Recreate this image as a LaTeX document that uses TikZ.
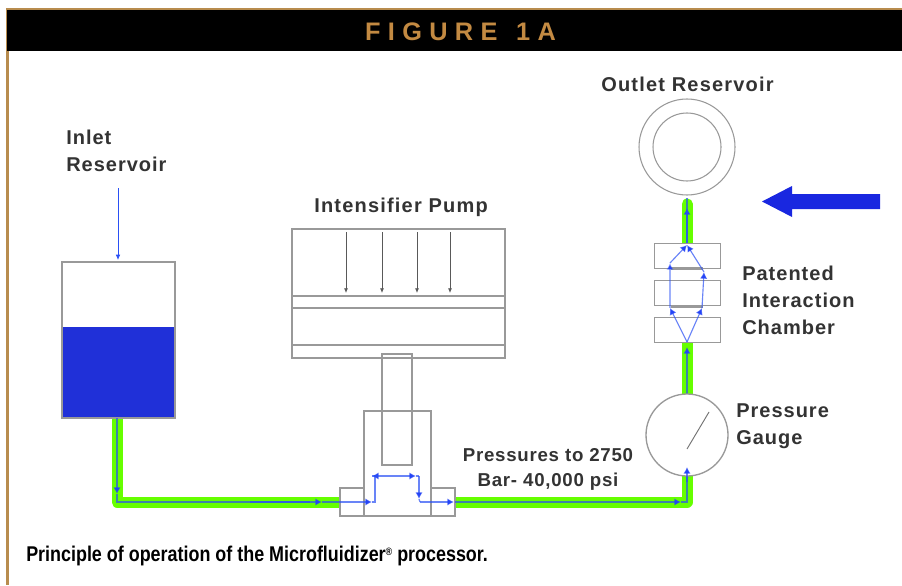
\documentclass[tikz,border=0pt]{standalone}
\usepackage{fontspec}
\setmainfont{Liberation Sans}
\newfontfamily\capfont[FakeStretch=0.84]{Liberation Sans}
\usetikzlibrary{arrows.meta}
\definecolor{gold}{HTML}{B88C4E}
\definecolor{pipegreen}{HTML}{66FF00}
\definecolor{flowblue}{HTML}{2A50F5}
\definecolor{tankblue}{HTML}{2030D8}
\definecolor{linegray}{HTML}{999999}
\tikzset{
  x=0.75pt,y=-0.75pt,
  part/.style={draw=linegray,line width=1pt},
  pipe/.style={draw=pipegreen,line width=8.25pt,line join=round,line cap=butt},
  flow/.style={draw=flowblue,line width=0.85pt,draw opacity=0.7},
  tip/.style={-{Latex[length=5pt,width=5.5pt,color=flowblue!85!blue]}},
  push/.style={draw=black!65,line width=0.6pt,-{Latex[length=3.5pt,width=3pt]}},
  label/.style={font=\bfseries\fontsize{15}{20.25}\selectfont,text=black!80,align=left,inner sep=0pt,anchor=west},
}
\begin{document}
\begin{tikzpicture}
\useasboundingbox (0,0) rectangle (902,585);
\fill[white] (0,0) rectangle (902,585);
% frame and header
\fill[gold] (6,8) rectangle (902,11);
\fill[gold] (6,8) rectangle (9,585);
\fill[black] (7,10) rectangle (902,51);
\node[inner sep=0pt,text=gold!85!orange,font=\bfseries\fontsize{19}{20}\selectfont] (title) at (460.5,32) {\addfontfeature{LetterSpace=29}FIGURE\hspace{14pt}1A};
% coordinates
\coordinate (tankout) at (117,418);
\coordinate (c1) at (117,502);
\coordinate (blockL) at (340,502);
\coordinate (blockR) at (455,502);
\coordinate (c2) at (687,502);
\coordinate (gaugeB) at (687,476);
\coordinate (gaugeT) at (687,394);
\coordinate (chamB) at (687,342);
\coordinate (chamT) at (687,243);
\coordinate (outB) at (687,204);
% pipes
\draw[pipe] (tankout) -- (c1) -- (blockL);
\draw[pipe] (blockR) -- (c2) -- (gaugeB);
\draw[pipe] (gaugeT) -- (chamB);
\draw[pipe,line cap=round] (chamT) -- (outB);
% tank
\fill[tankblue] (62,327) rectangle (175,418);
\draw[part] (62,262) rectangle (175,418);
% inlet arrow
\coordinate (inA) at (118,188);
\coordinate (inB) at (118,260);
\draw[flowblue,line width=0.6pt,-{Latex[length=4pt,width=3.5pt]}] (inA) -- (inB);
% pump
\draw[part] (292,229) rectangle (505,358);
\draw[part] (292,296) -- (505,296);
\draw[part] (292,308) -- (505,308);
\draw[part] (292,345) -- (505,345);
\foreach \x in {346,382,417,450}{\draw[push] (\x,232) -- (\x,293);}
\draw[part] (382,354) rectangle (412,465);
\draw[part] (364,411) rectangle (431,516);
\draw[part,line width=1.6pt] (364,411) -- (431,411);
\draw[part] (340,488) rectangle (364,516);
\draw[part] (431,488) rectangle (455,516);
\draw[part,line width=1.6pt] (431,488) -- (431,516);
% flow through the pipes
\draw[flow,tip] (117,418) -- (117,494);
\draw[flow] (117,494) -- (c1) -- (310,502);
\draw[flow,tip] (250,502) -- (322,502);
\draw[flow] (322,502) -- (340,502);
\draw[flow,tip] (340,502) -- (372,502);
\draw[flow,line width=1.2pt] (372,502) -- (375,502) -- (375,490);
\draw[flow,tip] (375,490) -- (375,476) -- (372,476);
\coordinate (t1) at (372,476);
\draw[flow,tip] (t1) -- (416,476);
\draw[flow] (416,476) -- (419,476);
\draw[flow,tip] (419,476) -- (419,499);
\draw[flow] (419,499) -- (420,502);
\draw[flow,tip] (420,502) -- (454,502);
\draw[flow,tip] (455,502) -- (681,502);
\draw[flow] (681,502) -- (c2) -- (gaugeB);
\draw[flow,tip] (687,394) -- (687,347);
\draw[flow,tip] (687,243) -- (687,208);
\draw[flow] (687,243) -- (687,198);
% gauge
\node[circle,draw=linegray,line width=1pt,fill=white,minimum size=82*0.75pt,inner sep=0pt] (gauge) at (687,435) {};
\draw[flow,tip] (687,482) -- (687,467);
\coordinate (needle) at (687,449);
\coordinate (needletip) at (709,412);
\draw[draw=black!55,line width=0.7pt] (needle) -- (needletip);
% chamber
\foreach \y/\n in {243/a,280/b,317/c}{
  \node[draw=linegray,line width=1pt,fill=white,minimum width=66*0.75pt,minimum height=25*0.75pt,inner sep=0pt,anchor=north west] (cham\n) at (654,\y) {};
}
\fill[linegray] (671,267) rectangle (703,270);
\fill[linegray] (671,305) rectangle (703,308);
\coordinate (top) at (687,245);
\coordinate (bot) at (687,342);
\coordinate (L1) at (670,263);
\coordinate (L2) at (670,308);
\coordinate (R1) at (704,272);
\coordinate (R2) at (702,308);
\draw[flow,tip] (bot) -- (L2);
\draw[flow,tip,line width=1.4pt,draw opacity=0.45] (L2) -- (L1);
\draw[flow,tip] (L1) -- (top);
\draw[flow,tip] (bot) -- (R2);
\draw[flow,tip] (R2) -- (R1);
\draw[flow,tip] (R1) -- (top);
% outlet reservoir
\node[circle,draw=linegray,line width=0.8pt,fill=white,minimum size=96*0.75pt,inner sep=0pt] (outer) at (687,147) {};
\node[circle,draw=linegray,line width=0.8pt,fill=white,minimum size=68*0.75pt,inner sep=0pt] (inner) at (687,147) {};
% big arrow
\fill[tankblue!80!blue] (880,194) -- (792,194) -- (792,186) -- (762,201.5) -- (792,217) -- (792,209) -- (880,209) -- cycle;
% labels
\node[label] (lin) at (66,153) {\addfontfeature{LetterSpace=5}\begin{tabular}{@{}l@{}}Inlet\\Reservoir\end{tabular}};
\node[label] (lint) at (314,207.5) {\addfontfeature{LetterSpace=6}Intensifier Pump};
\node[label] (lout) at (601,84.5) {\addfontfeature{LetterSpace=6}Outlet Reservoir};
\node[label] (lcham) at (742,302.5) {\addfontfeature{LetterSpace=5}\begin{tabular}{@{}l@{}}Patented\\Interaction\\Chamber\end{tabular}};
\node[label] (lg) at (736,426) {\addfontfeature{LetterSpace=5}\begin{tabular}{@{}l@{}}Pressure\\Gauge\end{tabular}};
\node[label,align=center,anchor=center,font=\bfseries\fontsize{14}{18.75}\selectfont] (lp) at (548,469.5) {\addfontfeature{LetterSpace=4}Pressures to 2750\\\addfontfeature{LetterSpace=4}Bar- 40,000 psi};
\node[inner sep=0pt,anchor=west,text=black,font=\capfont\bfseries\fontsize{16}{18}\selectfont] (cap) at (26,556) {Principle of operation of the Microfluidizer\raisebox{4.5pt}{\fontsize{8}{8}\selectfont ®} processor.};
\end{tikzpicture}
\end{document}
